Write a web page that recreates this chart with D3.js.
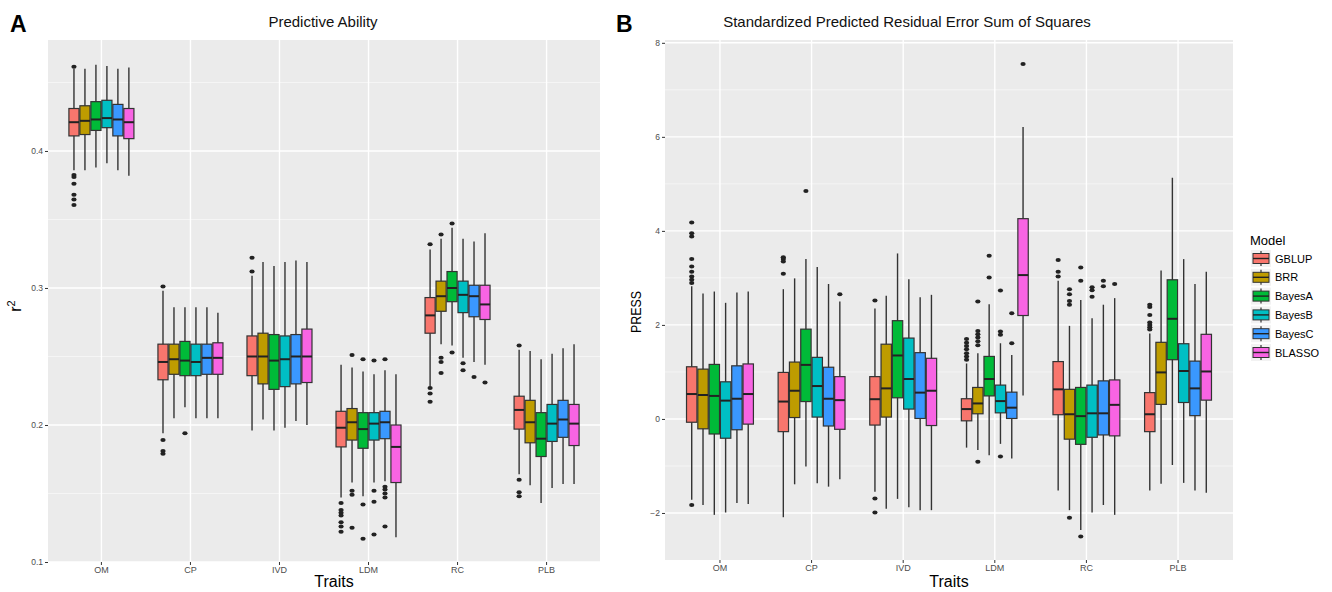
<!DOCTYPE html>
<html>
<head>
<meta charset="utf-8">
<script src="https://cdn.jsdelivr.net/npm/d3@7"></script>
<style>
body { margin: 0; background: #fff; }
text { font-family: "Liberation Sans", Arial, sans-serif; }
</style>
</head>
<body>
<script>
var traits = ["OM", "CP", "IVD", "LDM", "RC", "PLB"];
var models = ["GBLUP", "BRR", "BayesA", "BayesB", "BayesC", "BLASSO"];
var modelColors = ["#F8766D", "#BE9C00", "#00BA38", "#00BFC4", "#3A98FF", "#F864E3"];

// panel A: r2, rows = traits, cols = models
var r2Lower = [
    [0.386, 0.386, 0.388, 0.391, 0.386, 0.382],
    [0.194, 0.205, 0.213, 0.205, 0.205, 0.205],
    [0.196, 0.204, 0.196, 0.198, 0.203, 0.200],
    [0.147, 0.158, 0.148, 0.158, 0.159, 0.118],
    [0.228, 0.259, 0.258, 0.249, 0.246, 0.244],
    [0.164, 0.156, 0.143, 0.154, 0.157, 0.157]
];
var r2Q1 = [
    [0.411, 0.412, 0.415, 0.417, 0.411, 0.409],
    [0.233, 0.237, 0.236, 0.236, 0.237, 0.237],
    [0.236, 0.230, 0.226, 0.228, 0.230, 0.231],
    [0.184, 0.189, 0.183, 0.189, 0.190, 0.158],
    [0.267, 0.283, 0.290, 0.282, 0.279, 0.277],
    [0.197, 0.187, 0.177, 0.188, 0.191, 0.185]
];
var r2Median = [
    [0.421, 0.422, 0.423, 0.424, 0.423, 0.421],
    [0.246, 0.248, 0.247, 0.246, 0.249, 0.249],
    [0.250, 0.250, 0.247, 0.248, 0.250, 0.250],
    [0.198, 0.202, 0.197, 0.201, 0.202, 0.184],
    [0.280, 0.294, 0.300, 0.295, 0.294, 0.288],
    [0.211, 0.202, 0.190, 0.201, 0.204, 0.201]
];
var r2Q3 = [
    [0.431, 0.433, 0.436, 0.437, 0.434, 0.431],
    [0.259, 0.259, 0.261, 0.259, 0.259, 0.260],
    [0.265, 0.267, 0.266, 0.265, 0.266, 0.270],
    [0.210, 0.212, 0.209, 0.209, 0.210, 0.200],
    [0.293, 0.305, 0.312, 0.305, 0.302, 0.302],
    [0.221, 0.218, 0.209, 0.215, 0.218, 0.215]
];
var r2Upper = [
    [0.460, 0.460, 0.463, 0.462, 0.460, 0.461],
    [0.298, 0.286, 0.286, 0.286, 0.286, 0.282],
    [0.309, 0.319, 0.316, 0.319, 0.320, 0.319],
    [0.244, 0.242, 0.239, 0.237, 0.240, 0.237],
    [0.328, 0.336, 0.344, 0.336, 0.334, 0.340],
    [0.255, 0.254, 0.248, 0.252, 0.256, 0.259]
];
var r2Outliers = [
    [[0.4615, 0.3825, 0.381, 0.376, 0.368, 0.3645, 0.3606], [], [], [], [], []],
    [[0.301, 0.189, 0.181, 0.179], [], [0.194], [], [], []],
    [[0.322, 0.312], [], [], [], [], []],
    [[0.143, 0.138, 0.136, 0.134, 0.129, 0.126, 0.122], [0.251, 0.152, 0.149, 0.125],
     [0.248, 0.142, 0.117], [0.247, 0.152, 0.144, 0.120],
     [0.248, 0.155, 0.153, 0.150, 0.147, 0.126], []],
    [[0.332, 0.227, 0.223, 0.217], [0.339, 0.249, 0.246, 0.238], [0.347, 0.253],
     [0.245, 0.240], [0.235], [0.231]],
    [[0.258, 0.160, 0.151, 0.148], [], [], [], [], []]
];
var r2Ticks = [0.1, 0.2, 0.3, 0.4];
var r2Minor = [0.15, 0.25, 0.35, 0.45];

// panel B: PRESS
var pressLower = [
    [-1.72, -1.83, -2.04, -1.99, -1.79, -1.81],
    [-2.09, -1.39, -1.01, -1.37, -1.44, -1.28],
    [-1.55, -1.91, -1.70, -1.88, -1.94, -1.94],
    [-0.61, -0.66, -0.77, -0.53, -0.84, 0.50],
    [-1.52, -1.94, -2.36, -1.99, -1.83, -2.04],
    [-1.52, -1.38, -0.98, -1.36, -1.52, -1.57]
];
var pressQ1 = [
    [-0.07, -0.21, -0.32, -0.41, -0.23, -0.11],
    [-0.27, 0.03, 0.37, 0.04, -0.15, -0.22],
    [-0.13, 0.04, 0.45, 0.21, 0.01, -0.14],
    [-0.04, 0.11, 0.49, 0.13, 0.01, 2.20],
    [0.09, -0.43, -0.54, -0.39, -0.34, -0.36],
    [-0.27, 0.31, 1.26, 0.35, 0.07, 0.40]
];
var pressMedian = [
    [0.53, 0.51, 0.49, 0.39, 0.43, 0.53],
    [0.37, 0.60, 1.15, 0.70, 0.43, 0.40],
    [0.42, 0.65, 1.35, 0.85, 0.56, 0.60],
    [0.21, 0.33, 0.85, 0.38, 0.24, 3.06],
    [0.63, 0.10, 0.06, 0.12, 0.12, 0.30],
    [0.10, 0.99, 2.13, 1.02, 0.65, 1.01]
];
var pressQ3 = [
    [1.11, 1.06, 1.16, 0.79, 1.13, 1.17],
    [0.99, 1.21, 1.91, 1.31, 1.10, 0.90],
    [0.90, 1.59, 2.09, 1.72, 1.41, 1.29],
    [0.43, 0.67, 1.33, 0.72, 0.57, 4.26],
    [1.22, 0.63, 0.67, 0.72, 0.81, 0.83],
    [0.56, 1.63, 2.96, 1.60, 1.23, 1.80]
];
var pressUpper = [
    [2.82, 2.67, 2.71, 2.47, 2.69, 2.71],
    [2.76, 2.99, 3.40, 3.23, 2.87, 2.50],
    [2.35, 2.62, 3.52, 2.97, 2.59, 2.64],
    [1.18, 1.40, 2.44, 1.61, 1.36, 6.21],
    [2.94, 1.98, 2.53, 2.14, 2.43, 2.57],
    [1.82, 3.16, 5.13, 3.40, 2.87, 3.13]
];
var pressOutliers = [
    [[4.18, 3.95, 3.88, 3.40, 3.24, 3.13, 3.03, 2.96, 2.89, -1.83], [], [], [], [], []],
    [[3.44, 3.40, 3.35, 3.09], [], [4.85], [], [], [2.65]],
    [[2.52, -1.69, -1.99], [], [], [], [], []],
    [[1.70, 1.62, 1.55, 1.48, 1.40, 1.33, 1.26], [2.50, 1.87, 1.80, 1.73, 1.65, 1.57, -0.91],
     [3.47, 3.01], [2.73, 1.86, 1.79, -0.80], [2.25, 1.61], [7.55]],
    [[3.38, 3.13, 3.03], [2.76, 2.65, 2.51, 2.43, -2.10], [3.22, 2.94, -2.50],
     [2.80, 2.74, 2.60], [2.94, 2.82], [2.87]],
    [[2.43, 2.38, 2.21, 2.05, 2.00, 1.95, 1.90], [], [], [], [], []]
];
var pressTicks = [-2, 0, 2, 4, 6, 8];
var pressMinor = [-1, 1, 3, 5, 7];

var W = 1332, H = 592;
var svg = d3.select("body").append("svg")
    .attr("width", W)
    .attr("height", H)
    .style("background", "#fff");

var color = d3.scaleOrdinal().domain(models).range(modelColors);

function drawPanel(p) {
    var g = svg.append("g");

    var x = d3.scaleBand()
        .domain(traits)
        .range([p.left, p.right])
        .paddingInner(0.25)
        .paddingOuter(0.225);
    var xSub = d3.scaleBand()
        .domain(models)
        .range([0, x.bandwidth()])
        .padding(0.08);
    var y = d3.scaleLinear()
        .domain(p.domain)
        .range([p.bottom, p.top]);

    // panel background + grid
    g.append("rect")
        .attr("x", p.left).attr("y", p.top)
        .attr("width", p.right - p.left).attr("height", p.bottom - p.top)
        .attr("fill", "#EBEBEB");

    g.selectAll(".minor").data(p.minor).enter().append("line")
        .attr("x1", p.left).attr("x2", p.right)
        .attr("y1", function (d) { return y(d); })
        .attr("y2", function (d) { return y(d); })
        .attr("stroke", "#F7F7F7").attr("stroke-width", 0.8);

    g.selectAll(".major").data(p.ticks).enter().append("line")
        .attr("x1", p.left).attr("x2", p.right)
        .attr("y1", function (d) { return y(d); })
        .attr("y2", function (d) { return y(d); })
        .attr("stroke", "#fff").attr("stroke-width", 1.4);

    g.selectAll(".vgrid").data(traits).enter().append("line")
        .attr("x1", function (d) { return x(d) + x.bandwidth() / 2; })
        .attr("x2", function (d) { return x(d) + x.bandwidth() / 2; })
        .attr("y1", p.top).attr("y2", p.bottom)
        .attr("stroke", "#fff").attr("stroke-width", 1.4);

    // axes
    var yAxis = g.append("g")
        .attr("transform", "translate(" + p.left + ",0)")
        .call(d3.axisLeft(y).tickValues(p.ticks).tickSize(3).tickPadding(2)
            .tickFormat(p.fmt));
    yAxis.select(".domain").remove();
    yAxis.selectAll("line").attr("stroke", "#333");
    yAxis.selectAll("text").attr("fill", "#4D4D4D").style("font-size", "8.5px");

    var xAxis = g.append("g")
        .attr("transform", "translate(0," + p.bottom + ")")
        .call(d3.axisBottom(x).tickSize(3).tickPadding(2));
    xAxis.select(".domain").remove();
    xAxis.selectAll("line").attr("stroke", "#333");
    xAxis.selectAll("text").attr("fill", "#4D4D4D").style("font-size", "9px");

    // boxes
    var items = [];
    traits.forEach(function (t, i) {
        models.forEach(function (m, j) {
            items.push({
                trait: t, model: m,
                lo: p.lower[i][j], q1: p.q1[i][j], med: p.median[i][j],
                q3: p.q3[i][j], hi: p.upper[i][j], out: p.outliers[i][j]
            });
        });
    });

    var bw = xSub.bandwidth();
    var box = g.selectAll(".box").data(items).enter().append("g")
        .attr("class", "box")
        .attr("transform", function (d) {
            return "translate(" + (x(d.trait) + xSub(d.model) + bw / 2) + ",0)";
        });

    box.append("line")
        .attr("y1", function (d) { return y(d.lo); })
        .attr("y2", function (d) { return y(d.hi); })
        .attr("stroke", "#333").attr("stroke-width", 1.4);

    box.append("rect")
        .attr("x", -bw / 2).attr("width", bw)
        .attr("y", function (d) { return y(d.q3); })
        .attr("height", function (d) { return y(d.q1) - y(d.q3); })
        .attr("fill", function (d) { return color(d.model); })
        .attr("stroke", "#333").attr("stroke-width", 1.2);

    box.append("line")
        .attr("x1", -bw / 2).attr("x2", bw / 2)
        .attr("y1", function (d) { return y(d.med); })
        .attr("y2", function (d) { return y(d.med); })
        .attr("stroke", "#222").attr("stroke-width", 2);

    box.selectAll("ellipse").data(function (d) { return d.out; }).enter().append("ellipse")
        .attr("cy", function (v) { return y(v); })
        .attr("rx", 2.6).attr("ry", 2)
        .attr("fill", "#222");

    // titles
    svg.append("text")
        .attr("x", p.titleX).attr("y", 27)
        .attr("text-anchor", "middle")
        .style("font-size", "15px")
        .attr("fill", "#111")
        .text(p.title);

    svg.append("text")
        .attr("x", p.tagX).attr("y", 32)
        .style("font-size", "23px").style("font-weight", "bold")
        .attr("fill", "#000")
        .text(p.tag);

    svg.append("text")
        .attr("x", p.xTitleX).attr("y", 587)
        .attr("text-anchor", "middle")
        .style("font-size", "16px")
        .attr("fill", "#000")
        .text("Traits");

    return y;
}

drawPanel({
    left: 48, right: 600, top: 40, bottom: 562,
    domain: [0.1, 0.481],
    ticks: r2Ticks, minor: r2Minor, fmt: d3.format(".1f"),
    lower: r2Lower, q1: r2Q1, median: r2Median, q3: r2Q3, upper: r2Upper, outliers: r2Outliers,
    title: "Predictive Ability", titleX: 323, tag: "A", tagX: 10, xTitleX: 334
});

drawPanel({
    left: 665, right: 1233, top: 40, bottom: 560,
    domain: [-3.0, 8.06],
    ticks: pressTicks, minor: pressMinor, fmt: d3.format("d"),
    lower: pressLower, q1: pressQ1, median: pressMedian, q3: pressQ3, upper: pressUpper, outliers: pressOutliers,
    title: "Standardized Predicted Residual Error Sum of Squares", titleX: 907, tag: "B", tagX: 616, xTitleX: 949
});

// y axis titles
var r2Label = svg.append("text")
    .attr("transform", "translate(21,306) rotate(-90)")
    .attr("text-anchor", "middle")
    .style("font-size", "16px")
    .attr("fill", "#000");
r2Label.append("tspan").text("r");
r2Label.append("tspan").attr("dy", -6).style("font-size", "11px").text("2");

svg.append("text")
    .attr("transform", "translate(641,312) rotate(-90)")
    .attr("text-anchor", "middle")
    .style("font-size", "15px")
    .attr("fill", "#000")
    .attr("textLength", 42)
    .attr("lengthAdjust", "spacingAndGlyphs")
    .text("PRESS");

// legend
var legend = svg.append("g").attr("transform", "translate(1250,0)");
legend.append("text")
    .attr("x", 0).attr("y", 245)
    .style("font-size", "13px")
    .attr("fill", "#000")
    .text("Model");

var key = legend.selectAll(".key").data(models).enter().append("g")
    .attr("class", "key")
    .attr("transform", function (d, i) { return "translate(0," + (250 + i * 18.8) + ")"; });

key.append("rect")
    .attr("x", 1).attr("y", 0).attr("width", 20).attr("height", 17)
    .attr("fill", "#F2F2F2");
key.append("line")
    .attr("x1", 11).attr("x2", 11).attr("y1", 1).attr("y2", 16)
    .attr("stroke", "#333").attr("stroke-width", 1.2);
key.append("rect")
    .attr("x", 3).attr("y", 3.5).attr("width", 16).attr("height", 10)
    .attr("fill", function (d) { return color(d); })
    .attr("stroke", "#333").attr("stroke-width", 1);
key.append("line")
    .attr("x1", 3).attr("x2", 19).attr("y1", 8.5).attr("y2", 8.5)
    .attr("stroke", "#222").attr("stroke-width", 1.4);
key.append("text")
    .attr("x", 25).attr("y", 12.5)
    .style("font-size", "11px")
    .attr("fill", "#000")
    .text(function (d) { return d; });
</script>
</body>
</html>
